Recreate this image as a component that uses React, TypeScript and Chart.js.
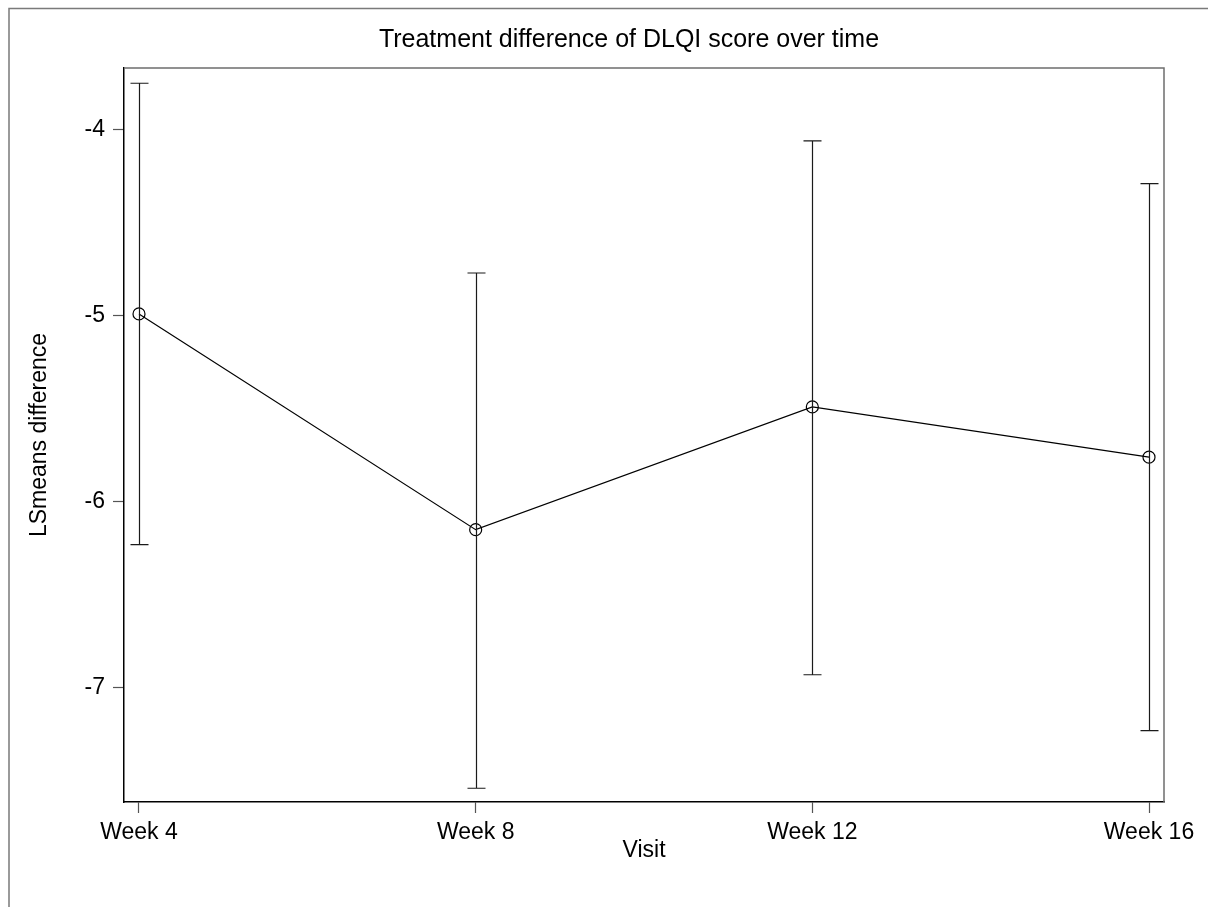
import React, { useEffect, useRef } from "react";
import { Chart, registerables } from "chart.js";

Chart.register(...registerables);

const categories = ["Week 4", "Week 8", "Week 12", "Week 16"];
const lsmeanDiff = [-4.99, -6.15, -5.49, -5.76];
const upperCI = [-3.75, -4.77, -4.06, -4.29];
const lowerCI = [-6.23, -7.54, -6.93, -7.23];
const yTickValues = [-7, -6, -5, -4];
const titleText = "Treatment difference of DLQI score over time";
const xTitle = "Visit";
const yTitle = "LSmeans difference";

const FONT = "'Liberation Sans', Arial, sans-serif";

const decorPlugin = {
  id: "decor",
  afterDatasetsDraw(chart: any) {
    const { ctx, chartArea, scales } = chart;
    const xs = scales.x;
    const ys = scales.y;
    ctx.save();
    ctx.strokeStyle = "#1a1a1a";
    ctx.lineWidth = 1.2;
    for (let i = 0; i < categories.length; i++) {
      const x = Math.round(xs.getPixelForValue(i + 1)) + 0.5;
      const yTop = ys.getPixelForValue(upperCI[i]);
      const yBot = ys.getPixelForValue(lowerCI[i]);
      ctx.beginPath();
      ctx.moveTo(x, yTop);
      ctx.lineTo(x, yBot);
      ctx.moveTo(x - 9, yTop);
      ctx.lineTo(x + 9, yTop);
      ctx.moveTo(x - 9, yBot);
      ctx.lineTo(x + 9, yBot);
      ctx.stroke();
    }
    ctx.strokeStyle = "#6e6e6e";
    ctx.lineWidth = 1.5;
    ctx.beginPath();
    ctx.moveTo(chartArea.left, chartArea.top);
    ctx.lineTo(chartArea.right, chartArea.top);
    ctx.lineTo(chartArea.right, chartArea.bottom);
    ctx.stroke();
    ctx.restore();
  },
  afterDraw(chart: any) {
    const { ctx, width, height } = chart;
    ctx.save();
    ctx.strokeStyle = "#7a7a7a";
    ctx.lineWidth = 1.5;
    ctx.beginPath();
    ctx.moveTo(9, height + 2);
    ctx.lineTo(9, 8.5);
    ctx.lineTo(width + 2, 8.5);
    ctx.stroke();
    ctx.fillStyle = "#000";
    ctx.font = `25px ${FONT}`;
    ctx.textAlign = "center";
    ctx.textBaseline = "middle";
    ctx.fillText(titleText, 629, 40);
    ctx.restore();
  },
};

export default function App() {
  const ref = useRef<HTMLCanvasElement>(null);
  useEffect(() => {
    if (!ref.current) return;
    const chart = new Chart(ref.current, {
      type: "line",
      data: {
        datasets: [
          {
            data: lsmeanDiff.map((v, i) => ({ x: i + 1, y: v })),
            borderColor: "#000",
            borderWidth: 1.2,
            pointRadius: 6,
            pointBorderWidth: 1.2,
            pointBorderColor: "#000",
            pointBackgroundColor: "rgba(0,0,0,0)",
            fill: false,
            tension: 0,
          },
        ],
      },
      plugins: [decorPlugin],
      options: {
        animation: false,
        responsive: false,
        maintainAspectRatio: false,
        layout: { padding: { left: 0, top: 68, right: 44, bottom: 0 } },
        plugins: {
          legend: { display: false },
          title: { display: false },
          tooltip: { enabled: false },
        },
        scales: {
          x: {
            type: "linear",
            min: 0.95545,
            max: 4.04455,
            afterFit: (s: any) => {
              s.height = 105;
            },
            afterBuildTicks: (s: any) => {
              s.ticks = categories.map((_, i) => ({ value: i + 1 }));
            },
            grid: {
              drawOnChartArea: false,
              drawTicks: true,
              tickLength: 11,
              tickWidth: 1.2,
              tickColor: "#555",
            },
            border: { display: true, color: "#000", width: 1.5 },
            ticks: {
              padding: 6,
              color: "#000",
              font: { family: FONT, size: 23 },
              maxRotation: 0,
              autoSkip: false,
              callback: (v: any) => categories[Number(v) - 1] ?? "",
            },
            title: {
              display: true,
              text: xTitle,
              color: "#000",
              font: { family: FONT, size: 23 },
              padding: { top: 0, bottom: 43 },
            },
          },
          y: {
            type: "linear",
            min: -7.614,
            max: -3.668,
            afterFit: (s: any) => {
              s.width = 124;
            },
            afterBuildTicks: (s: any) => {
              s.ticks = yTickValues.map((v) => ({ value: v }));
            },
            grid: {
              drawOnChartArea: false,
              drawTicks: true,
              tickLength: 11,
              tickWidth: 1.2,
              tickColor: "#555",
            },
            border: { display: true, color: "#000", width: 1.5 },
            ticks: {
              padding: 8,
              color: "#000",
              font: { family: FONT, size: 23 },
              callback: (v: any) => String(v),
            },
            title: {
              display: true,
              text: yTitle,
              color: "#000",
              font: { family: FONT, size: 23 },
              padding: { top: 26, bottom: 0 },
            },
          },
        },
      },
    });
    return () => chart.destroy();
  }, []);
  return (
    <div style={{ position: "fixed", left: 0, top: 0, width: 1208, height: 907, background: "#fff" }}>
      <canvas ref={ref} width={1208} height={907} style={{ display: "block", width: 1208, height: 907 }} />
    </div>
  );
}
